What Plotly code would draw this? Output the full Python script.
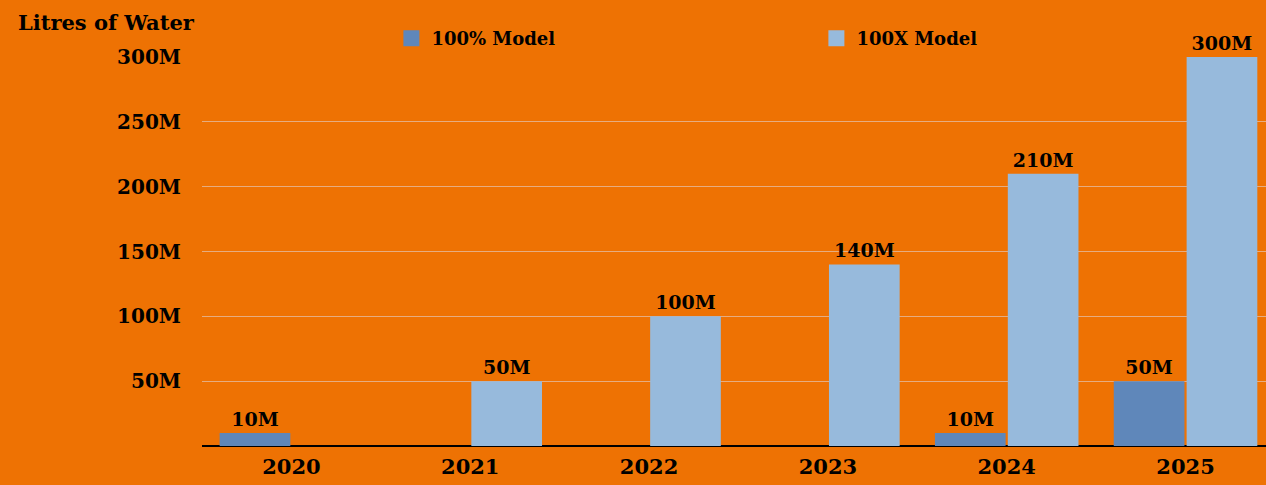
import plotly.graph_objects as go

years = ["2020", "2021", "2022", "2023", "2024", "2025"]
model_100pct = [10, None, None, None, 10, 50]      # millions of litres
model_100x = [None, 50, 100, 140, 210, 300]        # millions of litres
series_names = ["100% Model", "100X Model"]
y_tick_vals = [50, 100, 150, 200, 250, 300]
y_tick_text = ["50M", "100M", "150M", "200M", "250M", "300M"]

BG = "#EE7203"
DARK = "#5F87BA"
LIGHT = "#97BADC"
FONT = "DejaVu Serif"

def labels(vals):
    return [f"{v}M" if v is not None else "" for v in vals]

fig = go.Figure()
fig.add_trace(go.Bar(x=years, y=model_100pct, name=series_names[0], marker_color=DARK,
                     marker_line_width=0,
                     text=labels(model_100pct), textposition="outside", cliponaxis=False,
                     showlegend=False, hoverinfo="x+y"))
fig.add_trace(go.Bar(x=years, y=model_100x, name=series_names[1], marker_color=LIGHT,
                     marker_line_width=0,
                     text=labels(model_100x), textposition="outside", cliponaxis=False,
                     showlegend=False, hoverinfo="x+y"))
# legend entries with larger square swatches
for name, col in zip(series_names, [DARK, LIGHT]):
    fig.add_trace(go.Scatter(x=[None], y=[None], mode="markers", name=name,
                             marker=dict(symbol="square", size=22, color=col)))

fig.update_traces(selector=dict(type="bar"),
                  textfont=dict(family=FONT, size=19, color="black", weight="bold"))

fig.update_layout(
    width=1266, height=485,
    paper_bgcolor=BG, plot_bgcolor=BG,
    margin=dict(l=202, r=0, t=57, b=39),
    barmode="group", bargap=0.185, bargroupgap=0.03,
    font=dict(family=FONT, size=19, color="black", weight="bold"),
    legend=dict(orientation="h", x=0.178, y=1.0, xanchor="left", yanchor="bottom",
                entrywidth=380, entrywidthmode="pixels",
                font=dict(family=FONT, size=18, color="black", weight="bold"),
                bgcolor="rgba(0,0,0,0)"),
    xaxis=dict(range=[-0.5, 5.45], showgrid=False, showline=False, ticks="",
               tickfont=dict(family=FONT, size=21, color="black", weight="bold"),
               ticklabelstandoff=6, fixedrange=True),
    yaxis=dict(range=[0, 300], tickvals=y_tick_vals, ticktext=y_tick_text,
               showgrid=True, gridcolor="#E6AC80", gridwidth=1,
               zeroline=True, zerolinecolor="black", zerolinewidth=1.5,
               showline=False, ticks="", ticklabelstandoff=20,
               tickfont=dict(family=FONT, size=20, color="black", weight="bold"),
               fixedrange=True),
    annotations=[dict(text="Litres of Water", xref="paper", yref="paper",
                      x=-0.005, y=1.0, xanchor="right", yanchor="bottom", yshift=20,
                      showarrow=False,
                      font=dict(family=FONT, size=21, color="black", weight="bold"))],
)

fig.write_html("out.html", config={"displayModeBar": False},
               post_script="document.body.style.margin='0';document.body.style.overflow='hidden';")
